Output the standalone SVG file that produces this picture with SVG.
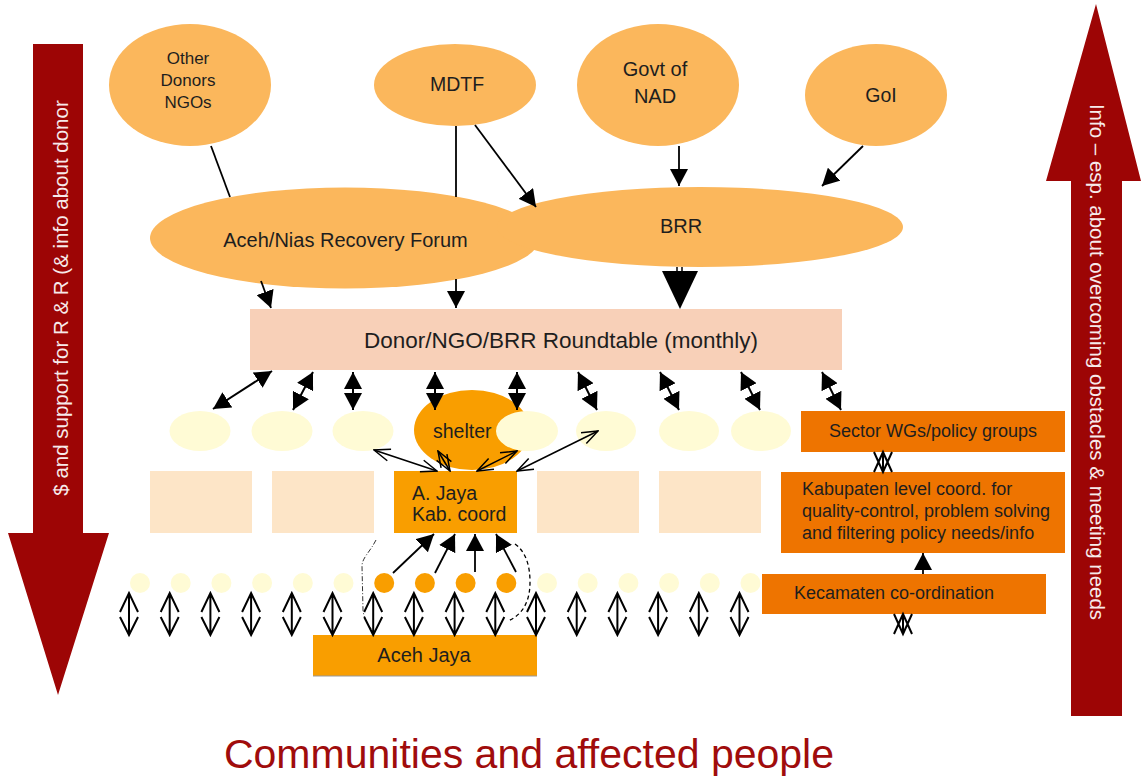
<svg xmlns="http://www.w3.org/2000/svg" width="1141" height="783" viewBox="0 0 1141 783">
<defs>
<marker id="fh" viewBox="0 0 17 18" refX="17" refY="9" markerWidth="17" markerHeight="18" markerUnits="userSpaceOnUse" orient="auto-start-reverse"><path d="M0,0 L17,9 L0,18 z" fill="#000"/></marker>
<marker id="oh" viewBox="-1 -1 18 14" refX="16" refY="6" markerWidth="18" markerHeight="14" markerUnits="userSpaceOnUse" orient="auto-start-reverse"><path d="M0,0 L16,6 L0,12" fill="none" stroke="#000" stroke-width="1.5"/></marker>
</defs>
<style>
.t{font-family:"Liberation Sans",Arial,Helvetica,sans-serif;fill:#1e1e1e}
.c{text-anchor:middle}
.big{fill:#fbb75c}
.pale{fill:#fffbd5}
.org{fill:#f99e00}
.dk{fill:#ee7400}
.peach{fill:#fde5c7}
.red{fill:#9d0505}
.ln{stroke:#000;stroke-width:1.8;fill:none}
.da{stroke:#000;stroke-width:2;fill:none;marker-start:url(#fh);marker-end:url(#fh)}
.oa{stroke:#000;stroke-width:1.5;fill:none;marker-start:url(#oh);marker-end:url(#oh)}
.dd{stroke:#000;stroke-width:2;fill:none}
.wt{font-family:"Liberation Sans",Arial,Helvetica,sans-serif;fill:#f7eaea;font-size:20.5px}
</style>
<rect width="1141" height="783" fill="#fff"/>

<g id="arrow-left">
<polygon class="red" points="33,44 83,44 83,533 109,533 58,695 8,533 33,533"/>
<text class="wt" transform="translate(68,298) rotate(-90)" text-anchor="middle">$ and support for R &amp; R (&amp; info about donor</text>
</g>
<g id="arrow-right">
<polygon class="red" points="1096,4 1141,181 1122,181 1122,716 1071,716 1071,181 1046,181"/>
<text class="wt" transform="translate(1090,362) rotate(90)" text-anchor="middle">Info – esp. about overcoming obstacles &amp; meeting needs</text>
</g>

<g id="other-donors"><ellipse class="big" cx="190" cy="85" rx="81" ry="61"/>
<text class="t c" x="188" font-size="17"><tspan x="188" y="64">Other</tspan><tspan x="188" y="86">Donors</tspan><tspan x="188" y="108">NGOs</tspan></text></g>
<g id="mdtf"><ellipse class="big" cx="455" cy="85" rx="81" ry="41"/>
<text class="t c" x="457" y="91" font-size="19.5">MDTF</text></g>
<g id="govt-nad"><ellipse class="big" cx="658" cy="85" rx="81" ry="61"/>
<text class="t c" font-size="20"><tspan x="655" y="76">Govt of</tspan><tspan x="655" y="103">NAD</tspan></text></g>
<g id="goi"><ellipse class="big" cx="876" cy="95" rx="71" ry="51"/>
<text class="t c" x="881" y="102" font-size="19.5">GoI</text></g>

<g id="forum"><ellipse class="big" cx="345" cy="238" rx="195" ry="50.5"/>
<text class="t c" x="345.5" y="247" font-size="20">Aceh/Nias Recovery Forum</text></g>
<g id="brr"><ellipse class="big" cx="700" cy="227" rx="203" ry="40"/>
<text class="t c" x="681" y="233" font-size="20">BRR</text></g>

<g id="roundtable"><rect x="250" y="309" width="592" height="61" fill="#f8d0b8"/>
<text class="t c" x="561" y="348" font-size="22.5">Donor/NGO/BRR Roundtable (monthly)</text></g>

<g id="shelter"><ellipse class="org" cx="472" cy="430" rx="58" ry="40"/>
<text class="t" x="433" y="438" font-size="19.5">shelter</text></g>
<g id="groups">
<ellipse class="pale" cx="200" cy="431" rx="30.5" ry="20"/>
<ellipse class="pale" cx="282" cy="431" rx="30.5" ry="20"/>
<ellipse class="pale" cx="363" cy="431" rx="30.5" ry="20"/>
<ellipse class="pale" cx="527" cy="431" rx="31" ry="20"/>
<ellipse class="pale" cx="606" cy="431" rx="30" ry="20"/>
<ellipse class="pale" cx="689" cy="431" rx="30" ry="20"/>
<ellipse class="pale" cx="761" cy="431" rx="30" ry="20"/>
</g>
<g id="sector"><rect class="dk" x="801" y="411" width="264" height="41"/>
<text class="t c" x="933" y="437" font-size="18">Sector WGs/policy groups</text></g>

<g id="kab-rects">
<rect class="peach" x="150" y="471" width="102" height="62"/>
<rect class="peach" x="272" y="471" width="102" height="62"/>
<rect class="peach" x="537" y="471" width="102" height="62"/>
<rect class="peach" x="659" y="471" width="102" height="62"/>
</g>
<g id="ajaya-kab"><rect class="org" x="394" y="471" width="123" height="62"/>
<text class="t" font-size="19.5"><tspan x="412" y="500">A. Jaya</tspan><tspan x="412" y="521">Kab. coord</tspan></text></g>
<g id="kabupaten"><rect class="dk" x="781" y="472" width="284" height="81"/>
<text class="t" font-size="18"><tspan x="802" y="495">Kabupaten level coord. for</tspan><tspan x="802" y="517">quality-control, problem solving</tspan><tspan x="802" y="539">and filtering policy needs/info</tspan></text></g>

<g id="dots">
<circle class="pale" cx="140" cy="583" r="10"/><circle class="pale" cx="180.7" cy="583" r="10"/><circle class="pale" cx="221.4" cy="583" r="10"/><circle class="pale" cx="262.1" cy="583" r="10"/><circle class="pale" cx="302.8" cy="583" r="10"/><circle class="pale" cx="343.5" cy="583" r="10"/>
<circle class="org" cx="384.2" cy="583" r="10"/><circle class="org" cx="424.9" cy="583" r="10"/><circle class="org" cx="465.6" cy="583" r="10"/><circle class="org" cx="506.3" cy="583" r="10"/>
<circle class="pale" cx="547" cy="583" r="10"/><circle class="pale" cx="587.7" cy="583" r="10"/><circle class="pale" cx="628.4" cy="583" r="10"/><circle class="pale" cx="669.1" cy="583" r="10"/><circle class="pale" cx="709.8" cy="583" r="10"/><circle class="pale" cx="750.5" cy="583" r="10"/>
</g>
<g id="kecamaten"><rect class="dk" x="762" y="574" width="284" height="40"/>
<text class="t" x="794" y="599" font-size="18">Kecamaten co-ordination</text></g>
<g id="aceh-jaya"><rect class="org" x="313" y="635" width="224" height="41"/>
<line x1="313" y1="676" x2="537" y2="676" stroke="#999" stroke-width="1"/>
<text class="t c" x="424" y="662" font-size="20">Aceh Jaya</text></g>

<g id="connectors">
<line class="ln" x1="211" y1="146" x2="230" y2="197"/>
<line class="ln" x1="261" y1="281" x2="271" y2="308" marker-end="url(#fh)"/>
<line class="ln" x1="456" y1="126" x2="456" y2="197"/>
<line class="ln" x1="456" y1="279" x2="456" y2="308" marker-end="url(#fh)"/>
<line class="ln" x1="475" y1="125" x2="536" y2="207" marker-end="url(#fh)"/>
<line class="ln" x1="679" y1="146" x2="679" y2="186" marker-end="url(#fh)"/>
<line class="ln" x1="863" y1="146" x2="822" y2="186" marker-end="url(#fh)"/>
<path d="M677,267 V272 M682,267 V272" stroke="#000" stroke-width="1.5"/>
<polygon points="662,271 698,271 680,309" fill="#000"/>
<line class="da" x1="272" y1="371" x2="213" y2="409"/>
<line class="da" x1="313" y1="372" x2="293" y2="410"/>
<line class="da" x1="353" y1="372" x2="353" y2="410"/>
<line class="da" x1="435" y1="372" x2="435" y2="410"/>
<line class="da" x1="517" y1="372" x2="517" y2="410"/>
<line class="da" x1="578" y1="372" x2="597" y2="410"/>
<line class="da" x1="660" y1="372" x2="679" y2="410"/>
<line class="da" x1="741" y1="372" x2="760" y2="410"/>
<line class="da" x1="822" y1="372" x2="841" y2="410"/>
<line class="oa" x1="437" y1="471" x2="374" y2="450"/>
<line class="oa" x1="450" y1="471" x2="438" y2="451"/>
<line class="oa" x1="477" y1="471" x2="517" y2="451"/>
<line class="oa" x1="517" y1="471" x2="598" y2="431"/>
<line class="ln" x1="393" y1="573" x2="434" y2="534" marker-end="url(#fh)"/>
<line class="ln" x1="435" y1="573" x2="455" y2="534" marker-end="url(#fh)"/>
<line class="ln" x1="475" y1="572" x2="475" y2="534" marker-end="url(#fh)"/>
<line class="ln" x1="516" y1="572" x2="496" y2="534" marker-end="url(#fh)"/>
<line class="ln" x1="923" y1="574" x2="923" y2="553" marker-end="url(#fh)"/>
<path class="dd" d="M874,472 L883,452 L892,472 M874,452 L883,472 L892,452 M883,452 V472" stroke-width="1.8"/>
<path class="dd" d="M894,634 L903,614 L912,634 M894,614 L903,634 L912,614 M903,614 V634" stroke-width="1.8"/>
<path d="M376,540 C370,552 362,558 362,566 L363,610 C364,620 369,627 374,632" fill="none" stroke="#333" stroke-width="1" stroke-dasharray="5,2,1,2"/>
<path d="M515,544 C526,552 530,566 530,582 C530,600 524,614 508,621" fill="none" stroke="#000" stroke-width="1.3" stroke-dasharray="4,3"/>
<g id="community-arrows">
<path class="dd" d="M120,612 L129,593 L138,612 M129,593 V635 M120,617 L129,635 L138,617"/>
<path class="dd" d="M160.7,612 L169.7,593 L178.7,612 M169.7,593 V635 M160.7,617 L169.7,635 L178.7,617"/>
<path class="dd" d="M201.4,612 L210.4,593 L219.4,612 M210.4,593 V635 M201.4,617 L210.4,635 L219.4,617"/>
<path class="dd" d="M242.1,612 L251.1,593 L260.1,612 M251.1,593 V635 M242.1,617 L251.1,635 L260.1,617"/>
<path class="dd" d="M282.8,612 L291.8,593 L300.8,612 M291.8,593 V635 M282.8,617 L291.8,635 L300.8,617"/>
<path class="dd" d="M323.5,612 L332.5,593 L341.5,612 M332.5,593 V635 M323.5,617 L332.5,635 L341.5,617"/>
<path class="dd" d="M364.2,612 L373.2,593 L382.2,612 M373.2,593 V635 M364.2,617 L373.2,635 L382.2,617"/>
<path class="dd" d="M404.9,612 L413.9,593 L422.9,612 M413.9,593 V635 M404.9,617 L413.9,635 L422.9,617"/>
<path class="dd" d="M445.6,612 L454.6,593 L463.6,612 M454.6,593 V635 M445.6,617 L454.6,635 L463.6,617"/>
<path class="dd" d="M486.3,612 L495.3,593 L504.3,612 M495.3,593 V635 M486.3,617 L495.3,635 L504.3,617"/>
<path class="dd" d="M527,612 L536,593 L545,612 M536,593 V635 M527,617 L536,635 L545,617"/>
<path class="dd" d="M567.7,612 L576.7,593 L585.7,612 M576.7,593 V635 M567.7,617 L576.7,635 L585.7,617"/>
<path class="dd" d="M608.4,612 L617.4,593 L626.4,612 M617.4,593 V635 M608.4,617 L617.4,635 L626.4,617"/>
<path class="dd" d="M649.1,612 L658.1,593 L667.1,612 M658.1,593 V635 M649.1,617 L658.1,635 L667.1,617"/>
<path class="dd" d="M689.8,612 L698.8,593 L707.8,612 M698.8,593 V635 M689.8,617 L698.8,635 L707.8,617"/>
<path class="dd" d="M730.5,612 L739.5,593 L748.5,612 M739.5,593 V635 M730.5,617 L739.5,635 L748.5,617"/>
</g>
</g>

<text class="t c" x="529" y="768" font-size="41" style="fill:#a00c0c">Communities and affected people</text>
</svg>
